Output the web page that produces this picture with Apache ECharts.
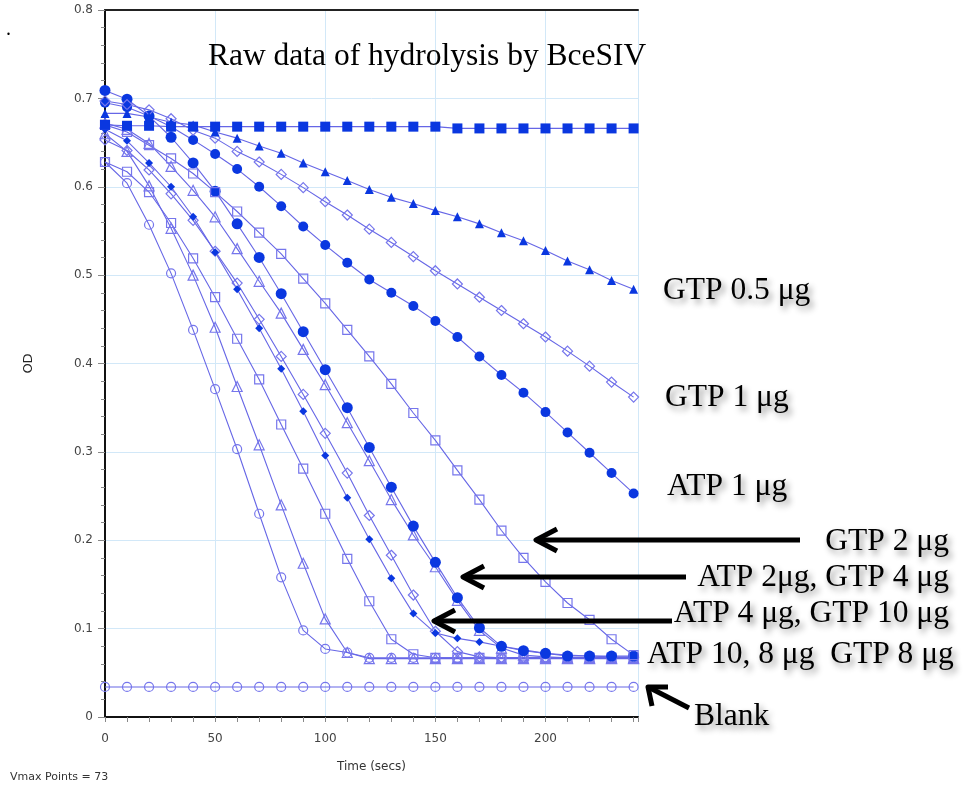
<!DOCTYPE html>
<html>
<head>
<meta charset="utf-8">
<script src="https://cdn.jsdelivr.net/npm/echarts@6/dist/echarts.min.js"></script>
<style>
html,body{margin:0;padding:0;background:#fff;}
#chart{width:977px;height:788px;}
</style>
</head>
<body>
<div id="chart"></div>
<script>
// ---- data (time in seconds, OD values) ----
const times = [0,10,20,30,40,50,60,70,80,90,100,110,120,130,140,150,160,170,180,190,200,210,220,230,240];
const xTicks = [0,50,100,150,200];
const yTicks = [0,0.1,0.2,0.3,0.4,0.5,0.6,0.7,0.8];

const controlFlat = [0.670,0.669,0.669,0.668,0.668,0.668,0.668,0.668,0.668,0.668,0.668,0.668,0.668,0.668,0.668,0.668,0.666,0.666,0.666,0.666,0.666,0.666,0.666,0.666,0.666];
const gtp05 = [0.683,0.683,0.679,0.673,0.670,0.662,0.655,0.646,0.638,0.627,0.617,0.607,0.597,0.588,0.581,0.573,0.566,0.558,0.548,0.539,0.528,0.516,0.506,0.494,0.484];
const gtp1 = [0.697,0.693,0.687,0.677,0.664,0.655,0.640,0.628,0.614,0.599,0.583,0.568,0.552,0.537,0.521,0.505,0.490,0.475,0.460,0.445,0.430,0.414,0.397,0.379,0.362];
const atp1 = [0.695,0.690,0.680,0.668,0.653,0.637,0.620,0.600,0.578,0.555,0.534,0.514,0.495,0.480,0.465,0.448,0.430,0.408,0.387,0.367,0.345,0.322,0.299,0.276,0.253];
const gtp2 = [0.670,0.662,0.647,0.632,0.615,0.594,0.572,0.548,0.524,0.496,0.468,0.438,0.408,0.377,0.344,0.313,0.279,0.246,0.211,0.180,0.153,0.129,0.110,0.088,0.070];
const atp2 = [0.709,0.699,0.680,0.656,0.627,0.595,0.558,0.520,0.479,0.436,0.393,0.350,0.305,0.260,0.216,0.175,0.135,0.101,0.080,0.075,0.072,0.069,0.069,0.069,0.069];
const gtp4 = [0.672,0.665,0.649,0.623,0.596,0.566,0.530,0.493,0.457,0.416,0.376,0.333,0.290,0.246,0.206,0.170,0.132,0.098,0.078,0.070,0.068,0.067,0.067,0.067,0.067];
const atp4 = [0.665,0.652,0.627,0.600,0.566,0.526,0.484,0.440,0.394,0.346,0.296,0.248,0.201,0.157,0.117,0.095,0.089,0.085,0.080,0.076,0.072,0.070,0.069,0.068,0.068];
const gtp10 = [0.653,0.641,0.619,0.592,0.562,0.527,0.491,0.450,0.408,0.365,0.321,0.276,0.228,0.183,0.138,0.097,0.074,0.068,0.067,0.067,0.067,0.067,0.067,0.067,0.067];
const atp10 = [0.628,0.617,0.594,0.559,0.519,0.475,0.428,0.382,0.331,0.281,0.230,0.179,0.131,0.088,0.071,0.067,0.067,0.067,0.067,0.067,0.067,0.067,0.067,0.067,0.067];
const atp8 = [0.660,0.640,0.601,0.553,0.500,0.441,0.374,0.308,0.240,0.174,0.111,0.073,0.066,0.066,0.066,0.066,0.066,0.066,0.066,0.066,0.066,0.066,0.066,0.066,0.066];
const gtp8 = [0.628,0.604,0.557,0.502,0.438,0.371,0.303,0.230,0.158,0.098,0.077,0.073,0.067,0.067,0.067,0.067,0.067,0.067,0.067,0.067,0.067,0.067,0.067,0.067,0.067];
const blank = [0.034,0.034,0.034,0.034,0.034,0.034,0.034,0.034,0.034,0.034,0.034,0.034,0.034,0.034,0.034,0.034,0.034,0.034,0.034,0.034,0.034,0.034,0.034,0.034,0.034];

const titleText = 'Raw data of hydrolysis by BceSIV';

// ---- styling ----
const LINE = '#6666e6';
const FILLED = '#0a37e0';
const OPEN = '#7676ec';
const SERIF = '"Liberation Serif", "DejaVu Serif", serif';

function pairs(vals){ return times.map((t,i)=>[t, vals[i]]); }

function mk(name, vals, symbol, size, filled){
  return {
    name: name,
    type: 'line',
    data: pairs(vals),
    symbol: symbol,
    symbolSize: size,
    showAllSymbol: true,
    animation: false,
    clip: false,
    lineStyle: {color: LINE, width: 1.1},
    itemStyle: filled ? {color: FILLED, borderWidth: 0}
                      : {color: 'rgba(255,255,255,0)', borderColor: OPEN, borderWidth: 1.2},
    emphasis: {disabled: true}
  };
}

const series = [
  mk('Blank', blank, 'circle', 9, false),
  mk('GTP 8 μg', gtp8, 'circle', 9, false),
  mk('ATP 8 μg', atp8, 'triangle', 10, false),
  mk('ATP 10 μg', atp10, 'rect', 9, false),
  mk('GTP 10 μg', gtp10, 'diamond', 10, false),
  mk('ATP 4 μg', atp4, 'diamond', 8, true),
  mk('GTP 4 μg', gtp4, 'triangle', 10, false),
  mk('ATP 2 μg', atp2, 'circle', 11, true),
  mk('GTP 2 μg', gtp2, 'rect', 9, false),
  mk('ATP 1 μg', atp1, 'circle', 10, true),
  mk('GTP 1 μg', gtp1, 'diamond', 10, false),
  mk('GTP 0.5 μg', gtp05, 'triangle', 9, true),
  mk('Control', controlFlat, 'rect', 10, true)
];

function label(text, x, y, align){
  return {
    type: 'text', silent: true, z: 100,
    x: x, y: y,
    style: {
      text: text, x: 0, y: 0,
      font: '31.5px ' + SERIF,
      fill: '#000',
      textAlign: align || 'left',
      textVerticalAlign: 'middle',
      textShadowColor: 'rgba(0,0,0,0.45)',
      textShadowBlur: 6,
      textShadowOffsetX: 3,
      textShadowOffsetY: 4
    }
  };
}
function arrow(x1, y1, x2, y2, head){
  return [
    {type: 'polyline', silent: true, z: 100, shape: {points: [[x1,y1],[x2 + 3,y2 + (y1 - y2) * 3 / Math.max(1, Math.abs(x1 - x2))]]},
     style: {stroke: '#000', lineWidth: 5, fill: null}},
    {type: 'polyline', silent: true, z: 100, shape: {points: [head[0], [x2,y2], head[1]]},
     style: {stroke: '#000', lineWidth: 5, fill: null, lineJoin: 'round'}}
  ];
}

const graphics = [
  label('GTP 0.5 μg', 663, 291),
  label('GTP 1 μg', 665, 398),
  label('ATP 1 μg', 667, 487),
  label('GTP 2 μg', 949, 542, 'right'),
  label('ATP 2μg, GTP 4 μg', 949, 578, 'right'),
  label('ATP 4 μg, GTP 10 μg', 949, 614, 'right'),
  label('ATP 10, 8 μg  GTP 8 μg', 647, 655),
  label('Blank', 694, 717),
  ...arrow(800, 540, 536, 540, [[557,529],[557,551]]),
  ...arrow(686, 577, 463, 577, [[484,566],[484,588]]),
  ...arrow(672, 621, 434, 621, [[455,610],[455,632]]),
  ...arrow(689, 708, 648, 687, [[668,687],[652,706]]),
  {type: 'text', silent: true, x: 10, y: 777,
   style: {text: 'Vmax Points = 73', x: 0, y: 0, font: '11px "DejaVu Sans", sans-serif', fill: '#333', textVerticalAlign: 'middle'}},
  {type: 'text', silent: true, x: 6, y: 30,
   style: {text: '.', x: 0, y: 0, font: '20px ' + SERIF, fill: '#000', textVerticalAlign: 'middle'}}
];

const chart = echarts.init(document.getElementById('chart'), null, {renderer: 'canvas'});
chart.setOption({
  animation: false,
  backgroundColor: '#fff',
  title: {
    text: titleText, left: 203, top: 36,
    textStyle: {fontFamily: SERIF, fontSize: 31.5, fontWeight: 'normal', color: '#000'}
  },
  grid: {left: 105, right: 339, top: 10, bottom: 71, containLabel: false},
  xAxis: [{
    type: 'value', min: 0, max: 242, interval: 50,
    name: 'Time (secs)', nameLocation: 'middle', nameGap: 44,
    nameTextStyle: {fontFamily: '"DejaVu Sans", sans-serif', fontSize: 12, color: '#333'},
    axisLine: {show: true, onZero: false, lineStyle: {color: '#111', width: 2}},
    axisTick: {show: true, length: 5, lineStyle: {color: '#888'}},
    minorTick: {show: true, splitNumber: 5, length: 5, lineStyle: {color: '#888'}},
    axisLabel: {margin: 16, fontFamily: '"DejaVu Sans", sans-serif', fontSize: 12, color: '#444',
      formatter: v => (xTicks.indexOf(v) >= 0 ? String(v) : '')},
    splitLine: {show: true, lineStyle: {color: '#d2e8f8', width: 1}}
  }, {
    type: 'value', min: 0, max: 242, position: 'top',
    axisLine: {show: true, onZero: false, lineStyle: {color: '#222', width: 2}},
    axisTick: {show: false}, axisLabel: {show: false}, splitLine: {show: false}
  }],
  yAxis: {
    type: 'value', min: 0, max: 0.8, interval: 0.1,
    name: 'OD', nameLocation: 'middle', nameGap: 70, nameRotate: 90,
    nameTextStyle: {fontFamily: '"DejaVu Sans", sans-serif', fontSize: 13, color: '#222'},
    axisLine: {show: true, onZero: false, lineStyle: {color: '#111', width: 2}},
    axisTick: {show: true, length: 7, lineStyle: {color: '#888'}},
    minorTick: {show: true, splitNumber: 5, length: 4, lineStyle: {color: '#888'}},
    axisLabel: {margin: 12, fontFamily: '"DejaVu Sans", sans-serif', fontSize: 12, color: '#444',
      formatter: v => { const s = yTicks.find(t => Math.abs(t - v) < 1e-9); return s === undefined ? '' : (s === 0 ? '0' : s.toFixed(1)); }},
    splitLine: {show: true, lineStyle: {color: '#d2e8f8', width: 1}}
  },
  series: series,
  graphic: graphics
});
</script>
</body>
</html>
